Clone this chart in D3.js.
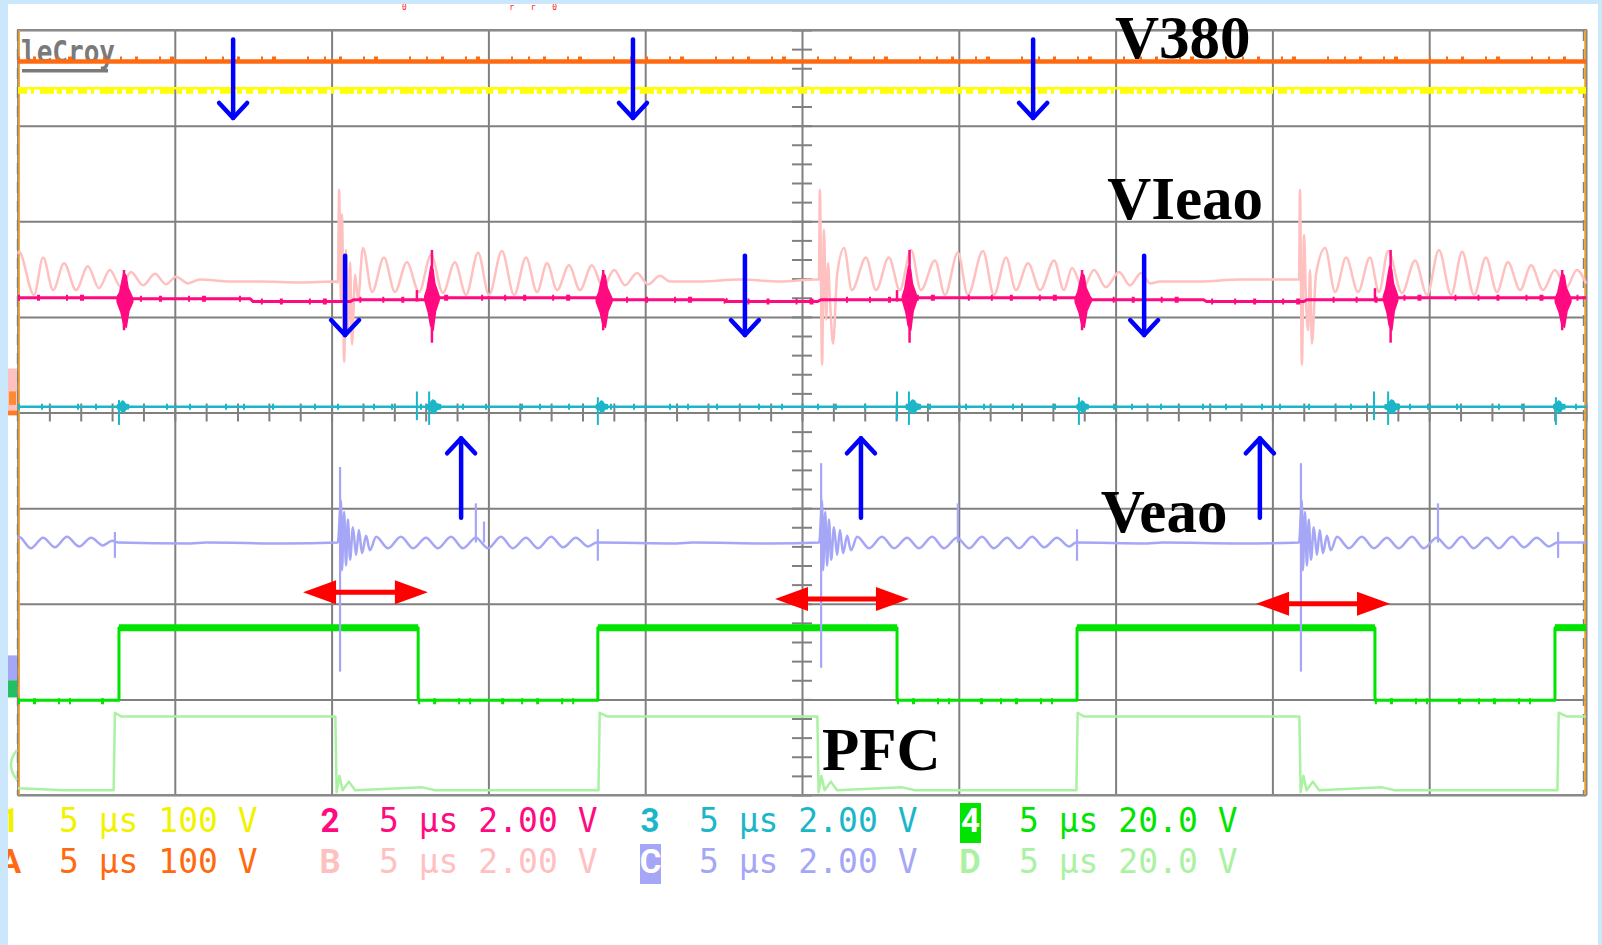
<!DOCTYPE html>
<html>
<head>
<meta charset="utf-8">
<script src="https://cdn.jsdelivr.net/npm/d3@7"></script>
<style>
  body { margin: 0; background: #fff; }
  svg { display: block; }
</style>
</head>
<body>
<svg id="scope" width="1602" height="945"></svg>
<script>
// time in µs (5 µs/div), amplitude in screen divisions (-4..4)
const timeTicks = d3.range(0, 51, 5);
const divTicks = d3.range(-4, 5, 1);

const traceA = [[0, 3.67], [50, 3.67]];
const trace1 = [[0, 3.39], [50, 3.39]];

const traceB = [
  [0, 1.66], [0.03, 1.68], [0.51, 1.23], [0.80, 1.62], [1.12, 1.28], [1.47, 1.56], [1.85, 1.28], [2.23, 1.53],
  [2.58, 1.30], [2.93, 1.49], [3.28, 1.31], [3.60, 1.47], [3.99, 1.33], [4.37, 1.45], [4.72, 1.34], [5.04, 1.42],
  [5.42, 1.35], [5.80, 1.39], [6.76, 1.37], [7.72, 1.37], [8.99, 1.36], [10.14, 1.37],
  [10.20, 1.36], [10.24, 2.33], [10.30, 1.18], [10.33, 2.07], [10.40, 0.53], [10.46, 1.70], [10.52, 0.86],
  [10.59, 1.57], [10.65, 0.71], [10.75, 1.44], [10.84, 1.18],
  [11.00, 1.72], [11.29, 1.26], [11.67, 1.62], [12.02, 1.26], [12.40, 1.57], [12.79, 1.26], [13.17, 1.65],
  [13.55, 1.25], [13.93, 1.57], [14.29, 1.23], [14.67, 1.67], [15.02, 1.23], [15.43, 1.69], [15.82, 1.23],
  [16.20, 1.62], [16.55, 1.26], [16.87, 1.56], [17.19, 1.28], [17.57, 1.54], [17.92, 1.28], [18.30, 1.54],
  [18.65, 1.31], [19.01, 1.49], [19.36, 1.33], [19.74, 1.46], [20.09, 1.34], [20.47, 1.43], [20.79, 1.37],
  [21.75, 1.37], [23.02, 1.39], [24.30, 1.37], [25.41, 1.39],
  [25.54, 1.39], [25.57, 2.33], [25.64, 0.50], [25.70, 1.91], [25.77, 0.97], [25.83, 1.56], [25.89, 1.18],
  [25.99, 0.72], [26.12, 1.44],
  [26.34, 1.72], [26.59, 1.28], [27.04, 1.62], [27.36, 1.28], [27.77, 1.62], [28.12, 1.28], [28.48, 1.70],
  [28.79, 1.28], [29.24, 1.59], [29.56, 1.23], [29.97, 1.67], [30.29, 1.23], [30.77, 1.69], [31.12, 1.23],
  [31.51, 1.62], [31.82, 1.28], [32.21, 1.56], [32.59, 1.28], [33.04, 1.59], [33.35, 1.28], [33.61, 1.51],
  [33.96, 1.30], [34.31, 1.49], [34.69, 1.31], [35.11, 1.47], [35.46, 1.33], [35.81, 1.46], [36.10, 1.35],
  [36.42, 1.37], [37.69, 1.37], [38.97, 1.39], [40.24, 1.39], [40.75, 1.39],
  [40.85, 1.39], [40.88, 2.33], [40.94, 0.50], [41.01, 1.86], [41.07, 1.18], [41.14, 0.86], [41.20, 1.49],
  [41.26, 0.72], [41.39, 1.44],
  [41.68, 1.72], [42.00, 1.26], [42.35, 1.62], [42.73, 1.26], [43.11, 1.62], [43.40, 1.26], [43.69, 1.69],
  [44.13, 1.25], [44.55, 1.59], [44.93, 1.23], [45.31, 1.70], [45.70, 1.23], [46.05, 1.68], [46.43, 1.23],
  [46.81, 1.62], [47.16, 1.26], [47.51, 1.57], [47.90, 1.28], [48.25, 1.54], [48.63, 1.28], [49.01, 1.49],
  [49.36, 1.30], [49.71, 1.49], [50.00, 1.35]
];

const trace2 = [
  [0, 1.20], [3.2, 1.20], [3.6, 1.19], [7.4, 1.19], [7.5, 1.16], [10.6, 1.16], [10.7, 1.18], [13.0, 1.18],
  [13.4, 1.20], [18.4, 1.20], [18.9, 1.18], [22.5, 1.18], [22.6, 1.16], [25.5, 1.16], [25.6, 1.18], [28.3, 1.18],
  [28.7, 1.20], [33.8, 1.20], [34.2, 1.18], [37.8, 1.18], [37.9, 1.16], [41.0, 1.16], [41.1, 1.18], [43.5, 1.18],
  [43.9, 1.20], [50, 1.20]
];
// burst: centre µs, top, bottom, duration µs
const bursts2 = [
  [3.41, 1.46, 0.89, 0.50], [13.20, 1.53, 0.86, 0.46], [18.69, 1.46, 0.89, 0.50], [28.43, 1.53, 0.86, 0.46],
  [33.96, 1.46, 0.89, 0.50], [43.77, 1.53, 0.86, 0.46], [49.27, 1.46, 0.89, 0.50]
];
const spikes2 = [
  [13.20, 1.70, 0.73], [28.43, 1.70, 0.73], [43.77, 1.70, 0.73],
  [3.38, 1.49, 0.86], [18.66, 1.49, 0.86], [33.93, 1.49, 0.86], [49.24, 1.49, 0.86],
  [12.72, 1.28, 1.16], [28.03, 1.28, 1.16], [43.27, 1.30, 1.16]
];

const trace3 = [[0, 0.06], [50, 0.06]];
const spikes3 = [
  [3.22, 0.13, -0.13], [12.72, 0.22, -0.08], [13.11, 0.22, -0.13], [18.49, 0.16, -0.13], [28.03, 0.22, -0.08],
  [28.41, 0.22, -0.13], [33.83, 0.16, -0.13], [43.24, 0.22, -0.08], [43.69, 0.22, -0.13], [49.04, 0.16, -0.13]
];
const blobs3 = [
  [3.35, 0.12, 0.00, 0.35], [13.25, 0.13, -0.01, 0.45], [18.62, 0.12, 0.00, 0.35], [28.55, 0.13, -0.01, 0.45],
  [33.95, 0.12, 0.00, 0.35], [43.82, 0.13, -0.01, 0.45], [49.15, 0.12, 0.00, 0.35]
];

const traceC = [
  [0, -1.32], [0.03, -1.30], [0.41, -1.42], [0.80, -1.31], [1.18, -1.41], [1.56, -1.30], [1.95, -1.40], [2.33, -1.31],
  [2.71, -1.39], [3.00, -1.34], [3.2, -1.36], [5.5, -1.37], [6.0, -1.36], [8.5, -1.37], [10.2, -1.36],
  [10.30, -0.92], [10.33, -1.65], [10.40, -1.04], [10.46, -1.60], [10.52, -1.12], [10.59, -1.54], [10.68, -1.20],
  [10.78, -1.49], [10.87, -1.23], [10.97, -1.47], [11.10, -1.29], [11.22, -1.44],
  [11.42, -1.30], [11.80, -1.42], [12.21, -1.30], [12.60, -1.42], [13.01, -1.31], [13.39, -1.42], [13.81, -1.30],
  [14.19, -1.42], [14.60, -1.31], [14.99, -1.42], [15.40, -1.30], [15.78, -1.42], [16.20, -1.31], [16.58, -1.42],
  [17.00, -1.30], [17.38, -1.41], [17.79, -1.31], [18.18, -1.40], [18.45, -1.36],
  [21.0, -1.37], [21.5, -1.36], [24.0, -1.37], [25.55, -1.36],
  [25.64, -0.92], [25.67, -1.65], [25.74, -1.04], [25.80, -1.60], [25.86, -1.12], [25.93, -1.54], [26.02, -1.20],
  [26.12, -1.49], [26.21, -1.23], [26.31, -1.47], [26.44, -1.29], [26.56, -1.44],
  [26.76, -1.30], [27.14, -1.42], [27.55, -1.30], [27.94, -1.42], [28.35, -1.31], [28.73, -1.42], [29.15, -1.30],
  [29.53, -1.42], [29.94, -1.31], [30.33, -1.42], [30.74, -1.30], [31.12, -1.42], [31.54, -1.31], [31.92, -1.42],
  [32.34, -1.30], [32.72, -1.41], [33.13, -1.31], [33.52, -1.40], [33.74, -1.36],
  [36.0, -1.37], [36.5, -1.36], [39.0, -1.37], [40.85, -1.36],
  [40.94, -0.92], [40.97, -1.65], [41.04, -1.04], [41.10, -1.60], [41.16, -1.12], [41.23, -1.54], [41.32, -1.20],
  [41.42, -1.49], [41.51, -1.23], [41.61, -1.47], [41.74, -1.29], [41.86, -1.44],
  [42.06, -1.30], [42.44, -1.42], [42.85, -1.30], [43.24, -1.42], [43.65, -1.31], [44.03, -1.42], [44.45, -1.30],
  [44.83, -1.42], [45.24, -1.31], [45.63, -1.42], [46.04, -1.30], [46.42, -1.42], [46.84, -1.31], [47.22, -1.42],
  [47.64, -1.30], [48.02, -1.41], [48.43, -1.31], [48.82, -1.40], [49.08, -1.36], [50, -1.36]
];
const spikesC = [
  [3.09, -1.25, -1.52], [10.27, -0.57, -2.71], [14.60, -0.95, -1.36], [14.86, -1.14, -1.36], [18.49, -1.22, -1.55],
  [25.61, -0.53, -2.67], [29.97, -0.95, -1.36], [33.77, -1.22, -1.55], [40.91, -0.53, -2.71], [45.28, -0.95, -1.36],
  [49.11, -1.25, -1.52]
];

const trace4 = [
  [0, -3.01], [3.22, -3.01], [3.22, -2.25], [12.76, -2.25], [12.76, -3.01], [18.49, -3.01], [18.49, -2.25],
  [28.03, -2.25], [28.03, -3.01], [33.77, -3.01], [33.77, -2.25], [43.27, -2.25], [43.27, -3.01], [49.01, -3.01],
  [49.01, -2.25], [50, -2.25]
];

const traceD = [
  [0, -3.93], [1.5, -3.95], [3.05, -3.95], [3.09, -3.14], [3.3, -3.18], [10.12, -3.18], [10.16, -3.97],
  [10.25, -3.80], [10.35, -3.95], [10.55, -3.86], [10.75, -3.95], [12.9, -3.92], [13.3, -3.95], [18.51, -3.95],
  [18.55, -3.14], [18.8, -3.18], [25.49, -3.18], [25.53, -3.97], [25.62, -3.80], [25.72, -3.95], [25.92, -3.86],
  [26.12, -3.95], [28.2, -3.92], [28.6, -3.95], [33.75, -3.95], [33.79, -3.14], [34.0, -3.18], [40.86, -3.18],
  [40.90, -3.97], [40.99, -3.80], [41.09, -3.95], [41.29, -3.86], [41.49, -3.95], [43.5, -3.92], [43.9, -3.95],
  [49.09, -3.95], [49.13, -3.14], [49.4, -3.18], [50, -3.18]
];

// annotations: blue arrows [t, from, to], red double arrows [t1, t2, level]
const blueArrows = [
  [6.86, 3.90, 3.08], [19.61, 3.90, 3.08], [32.37, 3.90, 3.08],
  [10.43, 1.64, 0.81], [23.18, 1.64, 0.81], [35.91, 1.64, 0.81],
  [14.13, -1.10, -0.27], [26.88, -1.10, -0.27], [39.60, -1.10, -0.27]
];
const redArrows = [[9.09, 13.07, -1.88], [24.14, 28.41, -1.95], [39.48, 43.75, -2.00]];
const labels = [['V380', 34.98, 3.71], ['VIeao', 34.73, 2.02], ['Veao', 34.53, -1.25], ['PFC', 25.64, -3.74]];

const legendChannels = [['1', '2', '3', '4'], ['A', 'B', 'C', 'D']];
const legendSettings = [
  ['5 µs 100 V', '5 µs 2.00 V', '5 µs 2.00 V', '5 µs 20.0 V'],
  ['5 µs 100 V', '5 µs 2.00 V', '5 µs 2.00 V', '5 µs 20.0 V']
];
const topReadout = '0    rr0';

const colors = {
  A: '#ff6a10', '1': '#ffff00', B: '#ffc0c0', '2': '#ff0a80',
  '3': '#1cb6c9', C: '#a6a6f6', '4': '#00e400', D: '#aaf2a2'
};
const legendText = { ...colors, '1': '#f2f200' };

const svg = d3.select('#scope');
const plot = { left: 18, right: 1586, top: 30, bottom: 795 };
const x = d3.scaleLinear().domain([0, 50]).range([plot.left, plot.right]);
const y = d3.scaleLinear().domain([-4, 4]).range([plot.bottom, plot.top]);
const line = d3.line().x(d => x(d[0])).y(d => y(d[1]));
const smooth = d3.line().x(d => x(d[0])).y(d => y(d[1])).curve(d3.curveMonotoneX);

svg.append('rect').attr('width', 1602).attr('height', 945).attr('fill', '#fff');

// faint readout remnant just under the top strip
svg.append('text')
  .attr('x', 402).attr('y', 10)
  .attr('font-family', 'DejaVu Sans Mono').attr('font-size', 8).attr('fill', '#ff2020')
  .attr('textLength', 155).attr('lengthAdjust', 'spacing')
  .attr('xml:space', 'preserve').text(topReadout);

// graticule
const gx = svg.append('g')
  .attr('transform', `translate(0,${plot.bottom})`)
  .call(d3.axisBottom(x).tickValues(timeTicks).tickSize(-(plot.bottom - plot.top)).tickFormat(''));
const gy = svg.append('g')
  .attr('transform', `translate(${plot.left},0)`)
  .call(d3.axisLeft(y).tickValues(divTicks).tickSize(-(plot.right - plot.left)).tickFormat(''));
[gx, gy].forEach(g => {
  g.select('.domain').remove();
  g.selectAll('.tick line').attr('stroke', '#808080').attr('stroke-width', 2);
});

// minor ticks on the centre lines
const cy = svg.append('g')
  .attr('transform', `translate(${x(25) - 10},0)`)
  .call(d3.axisRight(y).tickValues(d3.range(-4, 4.001, 0.2)).tickSize(20).tickFormat(''));
const cx = svg.append('g')
  .attr('transform', `translate(0,${y(0) - 9})`)
  .call(d3.axisBottom(x).tickValues(d3.range(0, 50.001, 1)).tickSize(18).tickFormat(''));
[cx, cy].forEach(g => {
  g.select('.domain').remove();
  g.selectAll('.tick line').attr('stroke', '#808080').attr('stroke-width', 2);
});

svg.append('rect')
  .attr('x', plot.left).attr('y', plot.top)
  .attr('width', plot.right - plot.left).attr('height', plot.bottom - plot.top)
  .attr('fill', 'none').attr('stroke', '#8a8a8a').attr('stroke-width', 2);
[plot.left + 1, plot.right - 1].forEach(px => {
  svg.append('line').attr('x1', px).attr('x2', px).attr('y1', plot.top).attr('y2', plot.bottom)
    .attr('stroke', '#ffa31a').attr('stroke-width', 1.6);
  svg.append('line').attr('x1', px - 1.5).attr('x2', px - 1.5).attr('y1', plot.top).attr('y2', plot.bottom)
    .attr('stroke', '#808080').attr('stroke-width', 1.4).attr('stroke-dasharray', '11,8');
});

// LeCroy logo
svg.append('text').attr('x', 21).attr('y', 63)
  .attr('font-family', 'DejaVu Sans Mono').attr('font-weight', 'bold').attr('font-size', 32)
  .attr('fill', '#7a7a7a').attr('textLength', 94).attr('lengthAdjust', 'spacingAndGlyphs')
  .text('leCroy');
svg.append('rect').attr('x', 22).attr('y', 69).attr('width', 86).attr('height', 3.5).attr('fill', '#7a7a7a');

const traces = svg.append('g').attr('fill', 'none').attr('stroke-linejoin', 'round');

function trace(data, color, width, gen = line) {
  return traces.append('path').attr('d', gen(data)).attr('stroke', color).attr('stroke-width', width);
}
function noise(data, color, width, dash, dy) {
  return traces.append('path').attr('d', line(data))
    .attr('transform', `translate(0,${dy})`)
    .attr('stroke', color).attr('stroke-width', width).attr('stroke-dasharray', dash);
}
function spikes(data, color, width) {
  traces.selectAll(null).data(data).join('line')
    .attr('x1', d => x(d[0])).attr('x2', d => x(d[0]))
    .attr('y1', d => y(d[1])).attr('y2', d => y(d[2]))
    .attr('stroke', color).attr('stroke-width', width);
}
function blobs(data, color) {
  traces.selectAll(null).data(data).join('path')
    .attr('d', ([t, top, bot, dur]) => {
      const mid = (top + bot) / 2;
      return line([
        [t - dur / 2, mid + 0.02], [t - dur / 3, mid + (top - mid) * 0.3], [t - dur / 6, mid + (top - mid) * 0.75],
        [t - dur / 14, top], [t + dur / 14, mid + (top - mid) * 0.9], [t + dur / 5, mid + (top - mid) * 0.45],
        [t + dur / 2, mid + 0.02], [t + dur / 2, mid - 0.02], [t + dur / 4, mid - (mid - bot) * 0.4],
        [t + dur / 12, bot], [t - dur / 10, mid - (mid - bot) * 0.85], [t - dur / 4, mid - (mid - bot) * 0.45],
        [t - dur / 2, mid - 0.02]
      ]) + 'Z';
    })
    .attr('fill', color).attr('stroke', color).attr('stroke-width', 1.5);
}

// D, light green
trace(traceD, colors.D, 2.5);
// 4, green: thick when high
trace(trace4, colors['4'], 3);
const high4 = d3.pairs(trace4).filter(([a, b]) => a[1] > -2.6 && b[1] > -2.6);
high4.forEach(seg => trace(seg, colors['4'], 7));
const low4 = d3.pairs(trace4).filter(([a, b]) => a[1] < -2.6 && b[1] < -2.6);
low4.forEach(seg => noise(seg, colors['4'], 6, '2,13,3,22,2,9,2,30,3,17', 1));
// C, lavender
trace(traceC, colors.C, 2.5, smooth);
spikes(spikesC, colors.C, 2.2);
// 3, cyan
trace(trace3, colors['3'], 2.5);
noise(trace3, colors['3'], 6, '2,21,2,34,2,16,2,27,2,40', 0);
spikes(spikes3, colors['3'], 2);
blobs(blobs3, colors['3']);
// B, pink
trace(traceB, colors.B, 2.5, smooth);
// 2, magenta
trace(trace2, colors['2'], 3);
noise(trace2, colors['2'], 6, '2,17,3,26,2,12,4,33,2,21', 0);
blobs(bursts2, colors['2']);
spikes(spikes2, colors['2'], 2.5);
// 1, yellow
trace(trace1, colors['1'], 2.5);
noise(trace1, colors['1'], 5, '9,4,3,6,14,3,5,4,7,5', 3);
// A, orange
trace(traceA, colors.A, 4.5);
noise(traceA, colors.A, 4, '2,13,3,21,2,9,4,31,2,15', -3);

// trace markers at the left edge
const marks = svg.append('g');
marks.append('rect').attr('x', 8).attr('y', y(0.46)).attr('width', 9).attr('height', y(0.02) - y(0.46)).attr('fill', colors.B);
marks.append('rect').attr('x', 9).attr('y', y(0.22)).attr('width', 7).attr('height', y(0.08) - y(0.22)).attr('fill', '#ff8a30');
marks.append('rect').attr('x', 8).attr('y', y(0.02)).attr('width', 9).attr('height', y(-0.03) - y(0.02)).attr('fill', '#ff7a20');
marks.append('rect').attr('x', 8).attr('y', y(-2.54)).attr('width', 9).attr('height', y(-2.80) - y(-2.54)).attr('fill', colors.C);
marks.append('rect').attr('x', 8).attr('y', y(-2.80)).attr('width', 9).attr('height', y(-2.98) - y(-2.80)).attr('fill', '#22c060');
marks.append('path')
  .attr('d', `M17,${y(-3.53)} Q5,${y(-3.68)} 17,${y(-3.84)}`)
  .attr('fill', 'none').attr('stroke', colors.D).attr('stroke-width', 2.5);

// annotations
const ann = svg.append('g');
blueArrows.forEach(([t, from, to]) => {
  const px = x(t), y0 = y(from), y1 = y(to);
  const dir = y1 > y0 ? -1 : 1;
  ann.append('line').attr('x1', px).attr('x2', px).attr('y1', y0).attr('y2', y1)
    .attr('stroke', '#0000ff').attr('stroke-width', 4.5).attr('stroke-linecap', 'round');
  ann.append('path')
    .attr('d', `M${px - 14},${y1 + dir * 15} L${px},${y1} L${px + 14},${y1 + dir * 15}`)
    .attr('fill', 'none').attr('stroke', '#0000ff').attr('stroke-width', 4.5)
    .attr('stroke-linecap', 'round').attr('stroke-linejoin', 'round');
});
redArrows.forEach(([t1, t2, v]) => {
  const a = x(t1), b = x(t2), py = y(v);
  ann.append('line').attr('x1', a + 20).attr('x2', b - 20).attr('y1', py).attr('y2', py)
    .attr('stroke', '#ff0000').attr('stroke-width', 5);
  ann.append('path').attr('d', `M${a},${py} L${a + 33},${py - 12} L${a + 33},${py + 12}Z`).attr('fill', '#ff0000');
  ann.append('path').attr('d', `M${b},${py} L${b - 33},${py - 12} L${b - 33},${py + 12}Z`).attr('fill', '#ff0000');
});
ann.selectAll('text.label').data(labels).join('text')
  .attr('class', 'label')
  .attr('x', d => x(d[1])).attr('y', d => y(d[2]))
  .attr('font-family', '"Liberation Serif", "Times New Roman", serif')
  .attr('font-weight', 'bold').attr('font-size', 61).attr('fill', '#000')
  .text(d => d[0]);

// readout
const legend = svg.append('g').attr('font-family', '"DejaVu Sans Mono", monospace').attr('font-size', 33);
const rowBase = [832, 873];
const boxed = ['4', 'C'];
legendChannels.forEach((row, r) => {
  row.forEach((ch, i) => {
    const cx0 = i * 16 * 20;
    if (boxed.includes(ch)) {
      legend.append('rect').attr('x', cx0).attr('y', rowBase[r] - 29).attr('width', 21).attr('height', 40)
        .attr('fill', colors[ch]);
      legend.append('text').attr('x', cx0 + 10.5).attr('y', rowBase[r]).attr('text-anchor', 'middle')
        .attr('font-family', 'Roboto').attr('font-weight', 'bold').attr('fill', '#fff').text(ch);
    } else {
      legend.append('text').attr('x', cx0 + 10).attr('y', rowBase[r]).attr('text-anchor', 'middle')
        .attr('font-family', 'Roboto').attr('font-weight', 'bold').attr('fill', legendText[ch]).text(ch);
    }
    legend.append('text').attr('x', cx0 + 59).attr('y', rowBase[r])
      .attr('xml:space', 'preserve').attr('fill', legendText[ch]).text(legendSettings[r][i]);
  });
});

// frame strips
const strip = '#cbe7fb';
svg.append('rect').attr('x', 0).attr('y', 0).attr('width', 1602).attr('height', 4).attr('fill', strip);
svg.append('rect').attr('x', 0).attr('y', 0).attr('width', 8).attr('height', 945).attr('fill', strip);
svg.append('rect').attr('x', 1598).attr('y', 0).attr('width', 4).attr('height', 945).attr('fill', strip);
</script>
</body>
</html>
